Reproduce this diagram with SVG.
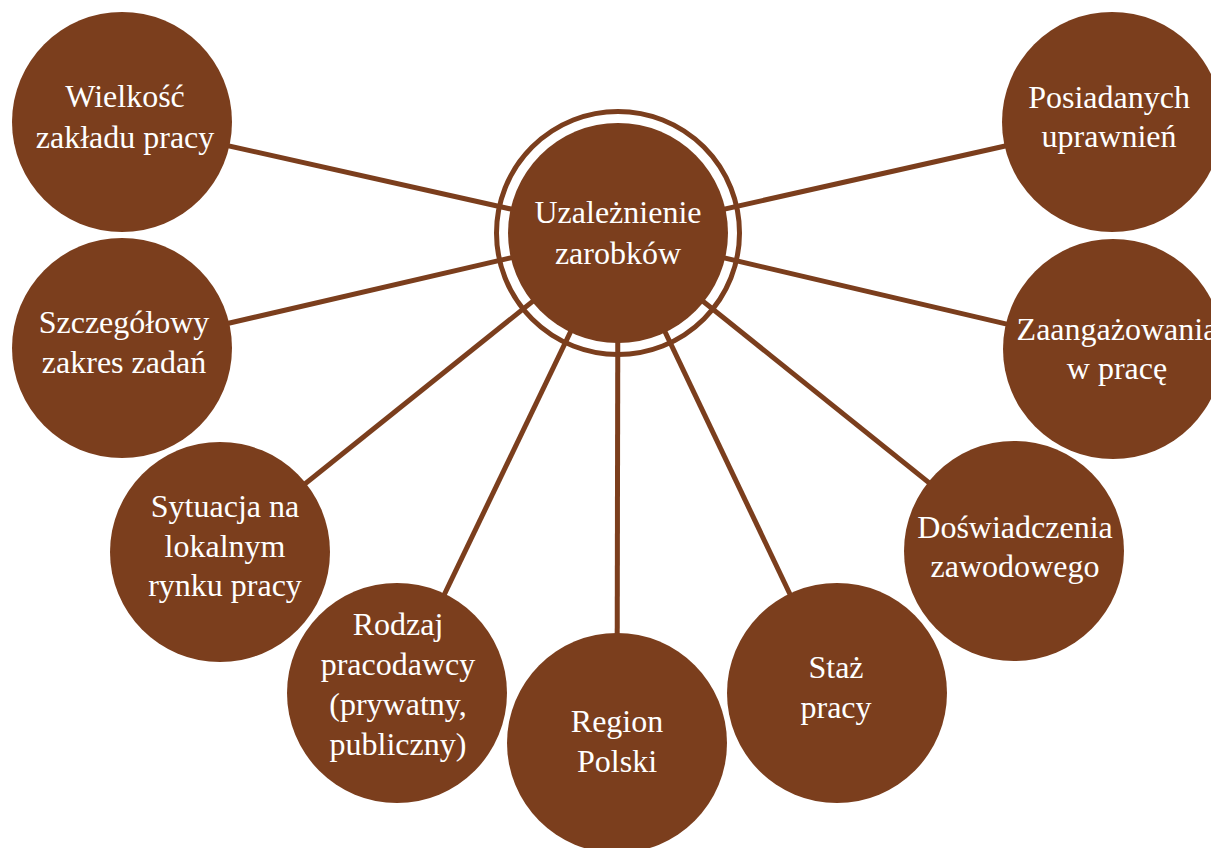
<svg xmlns="http://www.w3.org/2000/svg" width="1211" height="848" viewBox="0 0 1211 848">
<style>
.n{fill:#7B3E1D}
.c{stroke:#7B3E1D;stroke-width:5;fill:none}
.ring{stroke:#7B3E1D;stroke-width:5;fill:#fff}
.t{font-family:"Liberation Serif","DejaVu Serif",serif;font-size:32px;fill:#fff;text-anchor:middle}
</style>
<rect width="1211" height="848" fill="#fff"/>
<circle class="ring" cx="618" cy="233" r="121.5"/>
<g id="connectors">
<line class="c" x1="618" y1="233" x2="122" y2="122"/>
<line class="c" x1="618" y1="233" x2="122" y2="348"/>
<line class="c" x1="618" y1="233" x2="220" y2="552"/>
<line class="c" x1="618" y1="233" x2="397" y2="693"/>
<line class="c" x1="618" y1="233" x2="617" y2="743"/>
<line class="c" x1="618" y1="233" x2="837" y2="693"/>
<line class="c" x1="618" y1="233" x2="1014" y2="551"/>
<line class="c" x1="618" y1="233" x2="1113" y2="349"/>
<line class="c" x1="618" y1="233" x2="1112" y2="122"/>
</g>
<g id="center">
<circle class="n" cx="618" cy="233" r="110"/>
<text class="t" x="618" y="223">Uzależnienie</text>
<text class="t" x="618" y="264">zarobków</text>
</g>
<g id="n1">
<circle class="n" cx="122" cy="122" r="110"/>
<text class="t" x="125" y="107">Wielkość</text>
<text class="t" x="125" y="148">zakładu pracy</text>
</g>
<g id="n2">
<circle class="n" cx="122" cy="348" r="110"/>
<text class="t" x="124" y="333">Szczegółowy</text>
<text class="t" x="124" y="373">zakres zadań</text>
</g>
<g id="n3">
<circle class="n" cx="220" cy="552" r="110"/>
<text class="t" x="225" y="517">Sytuacja na</text>
<text class="t" x="225" y="557">lokalnym</text>
<text class="t" x="225" y="596">rynku pracy</text>
</g>
<g id="n4">
<circle class="n" cx="397" cy="693" r="110"/>
<text class="t" x="398" y="635">Rodzaj</text>
<text class="t" x="398" y="675">pracodawcy</text>
<text class="t" x="398" y="715">(prywatny,</text>
<text class="t" x="398" y="755">publiczny)</text>
</g>
<g id="n5">
<circle class="n" cx="617" cy="743" r="110"/>
<text class="t" x="617" y="732">Region</text>
<text class="t" x="617" y="772">Polski</text>
</g>
<g id="n6">
<circle class="n" cx="837" cy="693" r="110"/>
<text class="t" x="836" y="678">Staż</text>
<text class="t" x="836" y="718">pracy</text>
</g>
<g id="n7">
<circle class="n" cx="1014" cy="551" r="110"/>
<text class="t" x="1015" y="538">Doświadczenia</text>
<text class="t" x="1015" y="577">zawodowego</text>
</g>
<g id="n8">
<circle class="n" cx="1113" cy="349" r="110"/>
<text class="t" x="1117" y="340">Zaangażowania</text>
<text class="t" x="1117" y="379">w pracę</text>
</g>
<g id="n9">
<circle class="n" cx="1112" cy="122" r="110"/>
<text class="t" x="1109" y="108">Posiadanych</text>
<text class="t" x="1109" y="147">uprawnień</text>
</g>
</svg>
